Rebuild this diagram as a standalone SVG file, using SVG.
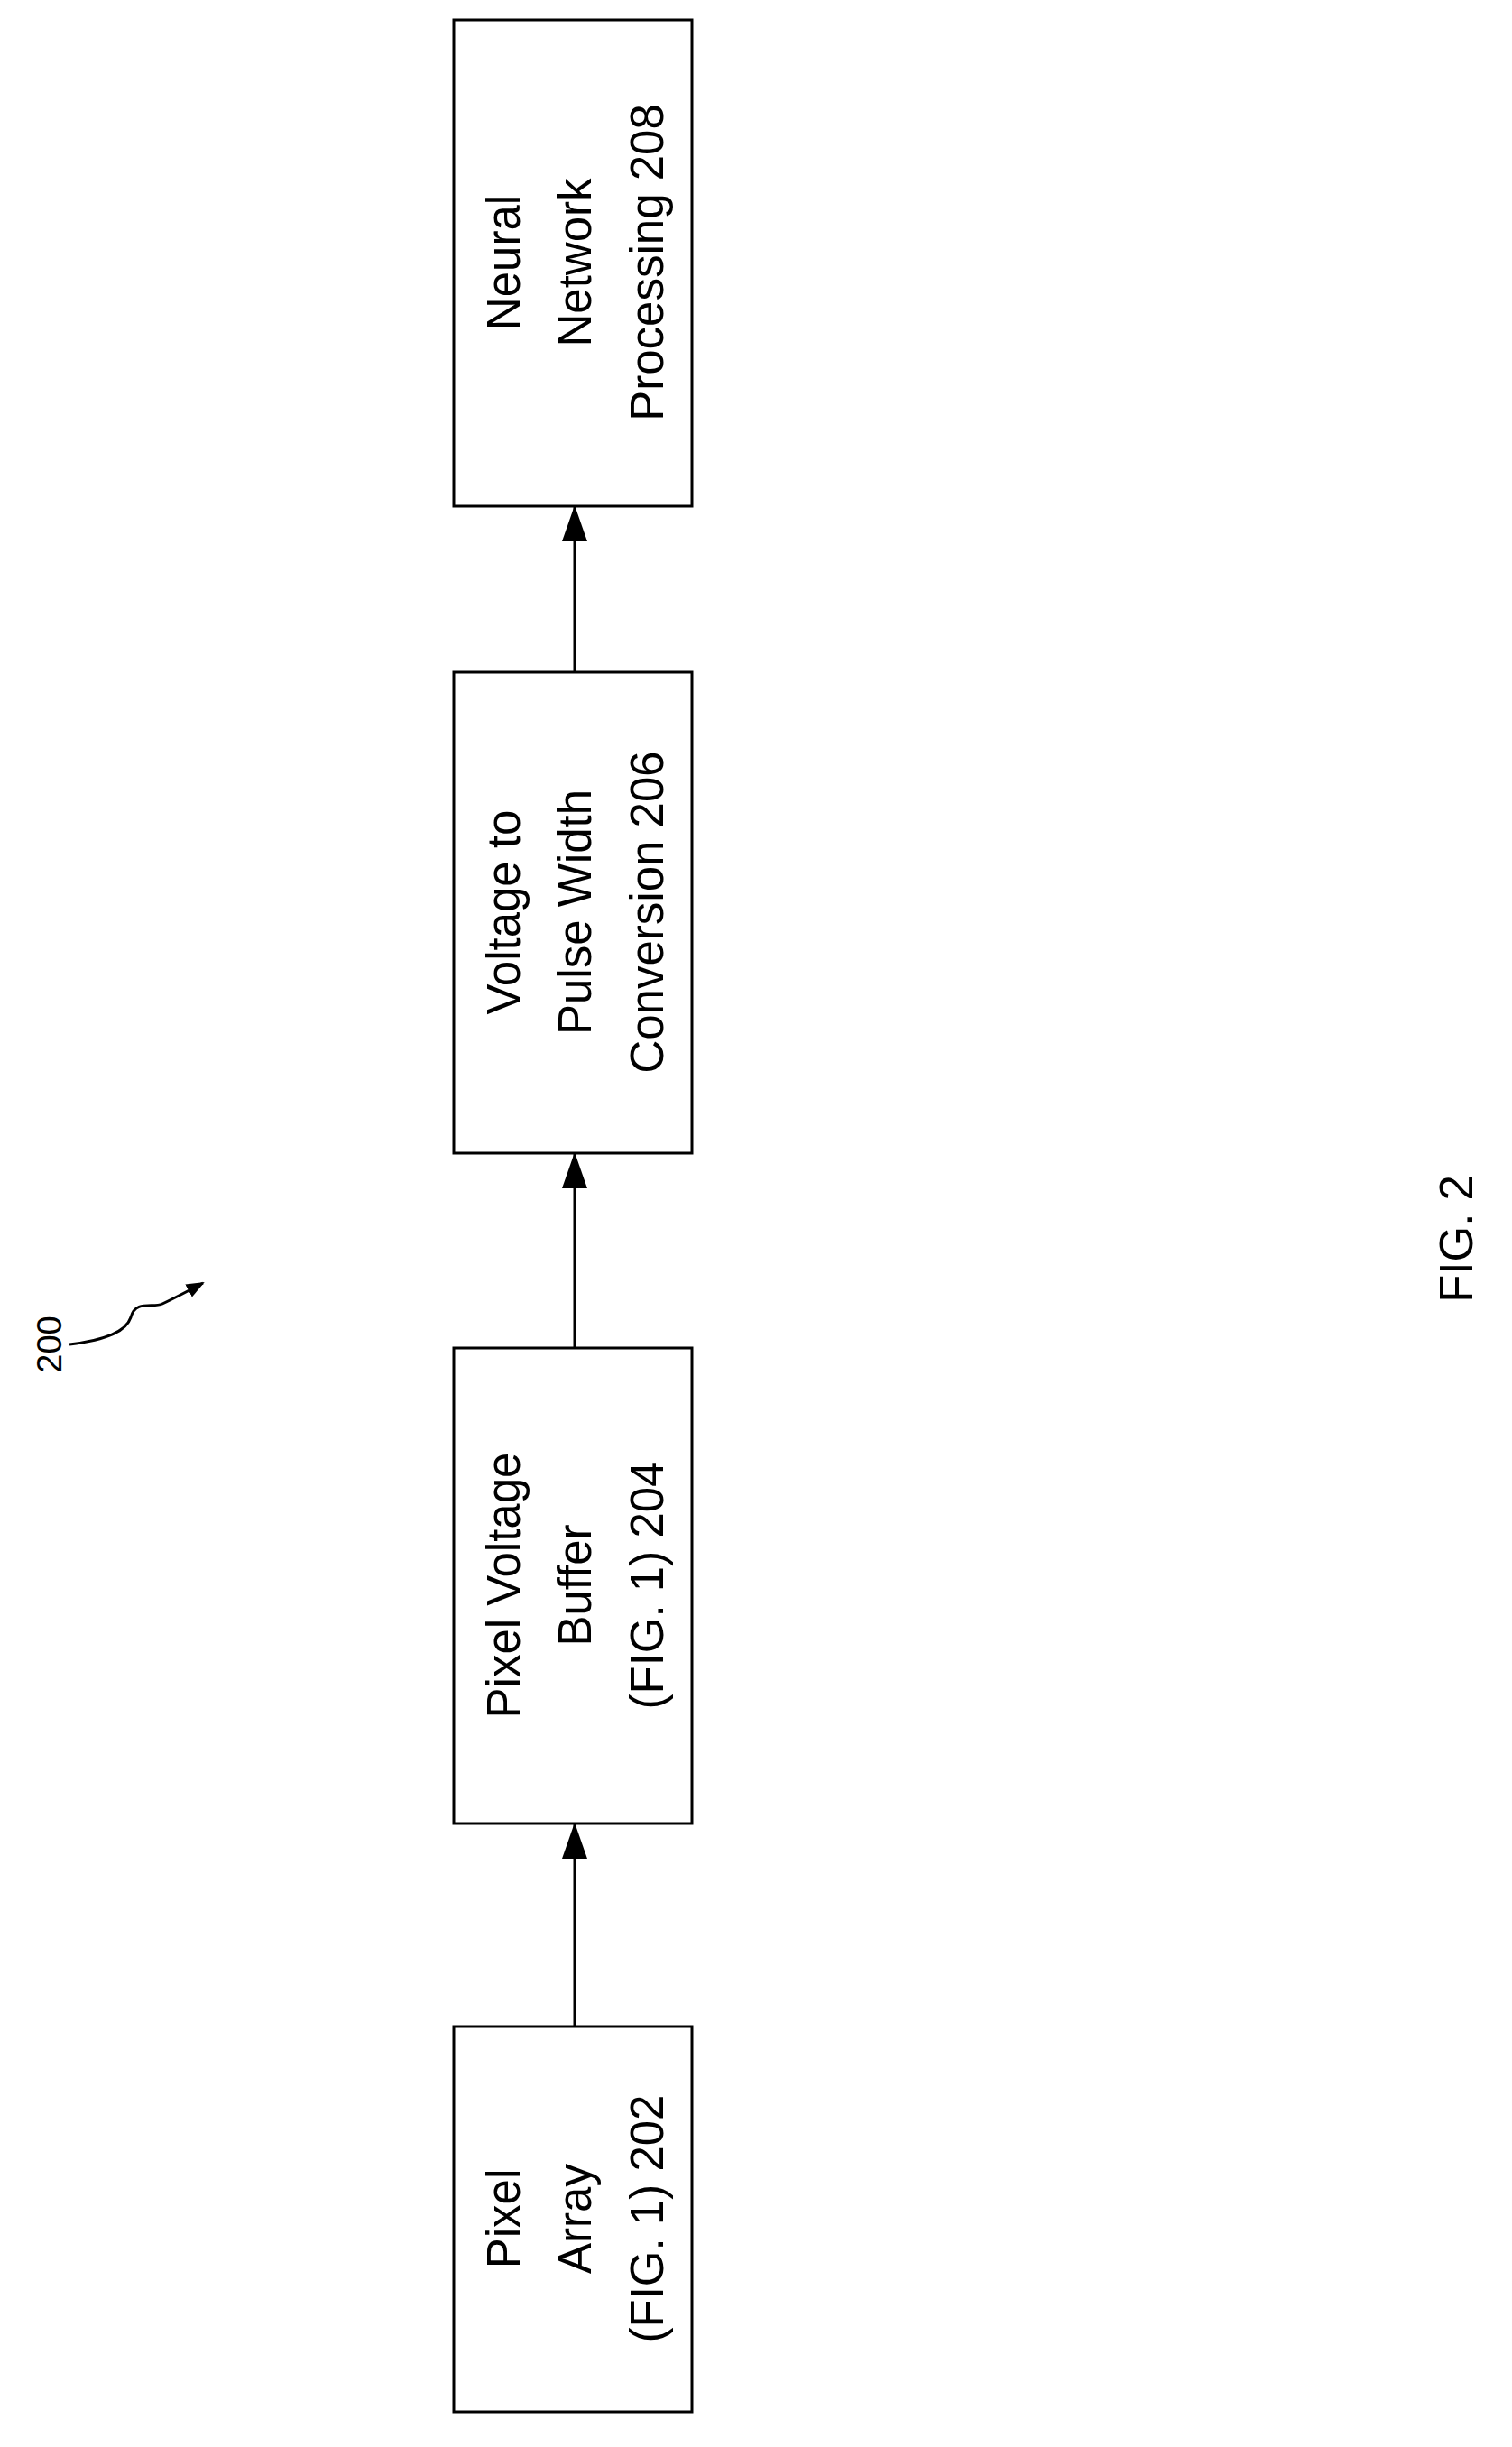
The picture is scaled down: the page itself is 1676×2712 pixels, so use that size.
<svg xmlns="http://www.w3.org/2000/svg" width="1676" height="2712" viewBox="0 0 1676 2712">
<style>
.b{fill:#fff;stroke:#000;stroke-width:3}
.t{font-family:"Liberation Sans",Arial,sans-serif;font-size:51px;text-anchor:middle;fill:#000}
.c{stroke:#000;stroke-width:3;fill:none}
</style>
<defs><marker id="a" markerWidth="20" markerHeight="20" refX="18" refY="10" orient="auto" markerUnits="userSpaceOnUse"><path d="M0,2L20,10L0,18z" fill="#000"/></marker>
<marker id="h" markerWidth="40" markerHeight="40" refX="38" refY="20" orient="auto" markerUnits="userSpaceOnUse"><path d="M0,6L40,20L0,34z" fill="#000"/></marker></defs>
<rect width="1676" height="2712" fill="#fff"/>
<g id="n208"><rect class="b" x="503" y="22" width="264" height="539"/>
<text class="t" transform="translate(576,291) rotate(-90)">Neural</text>
<text class="t" transform="translate(655,291) rotate(-90)">Network</text>
<text class="t" transform="translate(735,291) rotate(-90)">Processing 208</text></g>
<g id="n206"><rect class="b" x="503" y="745" width="264" height="533"/>
<text class="t" transform="translate(576,1011) rotate(-90)">Voltage to</text>
<text class="t" transform="translate(655,1011) rotate(-90)">Pulse Width</text>
<text class="t" transform="translate(735,1011) rotate(-90)">Conversion 206</text></g>
<g id="n204"><rect class="b" x="503" y="1494" width="264" height="527"/>
<text class="t" transform="translate(576,1757) rotate(-90)">Pixel Voltage</text>
<text class="t" transform="translate(655,1757) rotate(-90)">Buffer</text>
<text class="t" transform="translate(735,1757) rotate(-90)">(FIG. 1) 204</text></g>
<g id="n202"><rect class="b" x="503" y="2246" width="264" height="427"/>
<text class="t" transform="translate(576,2459) rotate(-90)">Pixel</text>
<text class="t" transform="translate(655,2459) rotate(-90)">Array</text>
<text class="t" transform="translate(735,2459) rotate(-90)">(FIG. 1) 202</text></g>
<g id="connectors">
<line class="c" x1="637" y1="2246" x2="637" y2="2022" marker-end="url(#h)"/>
<line class="c" x1="637" y1="1494" x2="637" y2="1279" marker-end="url(#h)"/>
<line class="c" x1="637" y1="745" x2="637" y2="562" marker-end="url(#h)"/>
<path class="c" d="M77,1490 C120,1485 140,1475 145,1460 C150,1440 170,1450 180,1445 C195,1438 210,1430 225,1422" marker-end="url(#a)"/>
</g>
<text class="t" transform="translate(68,1490) rotate(-90)" style="font-size:38px">200</text>
<text class="t" transform="translate(1632,1373) rotate(-90)">FIG. 2</text>
</svg>
